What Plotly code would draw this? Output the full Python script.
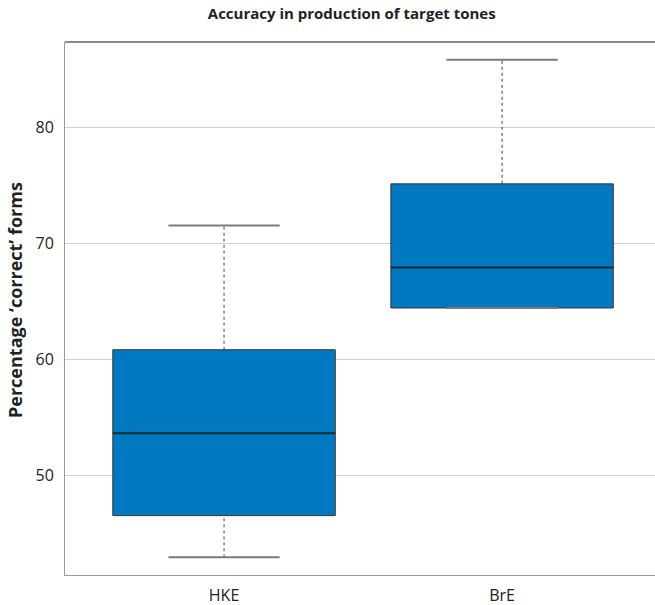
import plotly.graph_objects as go

categories = ["HKE", "BrE"]
lower_whisker = [42.9, 64.4]
q1 = [46.5, 64.4]
median = [53.6, 67.9]
q3 = [60.8, 75.1]
upper_whisker = [71.5, 85.8]
y_ticks = [50, 60, 70, 80]

BOX_W = 0.8
CAP_W = 0.4
pos = list(range(len(categories)))

fig = go.Figure()

# dotted whiskers
for i in pos:
    fig.add_trace(go.Scatter(x=[i, i], y=[q3[i], upper_whisker[i]], mode="lines",
                             line=dict(color="#444", width=1, dash="dot"),
                             hoverinfo="skip", showlegend=False))
    fig.add_trace(go.Scatter(x=[i, i], y=[lower_whisker[i], q1[i]], mode="lines",
                             line=dict(color="#444", width=1, dash="dot"),
                             hoverinfo="skip", showlegend=False))
    # caps
    for v in (upper_whisker[i], lower_whisker[i]):
        fig.add_trace(go.Scatter(x=[i - CAP_W / 2, i + CAP_W / 2], y=[v, v], mode="lines",
                                 line=dict(color="#7a7a7a", width=2),
                                 hoverinfo="skip", showlegend=False))

# boxes
fig.add_trace(go.Box(
    x=pos, q1=q1, median=median, q3=q3,
    lowerfence=q1, upperfence=q3,
    width=BOX_W, whiskerwidth=0,
    fillcolor="#0079C1", line=dict(color="#333333", width=1),
    boxpoints=False, showlegend=False,
))

# medians (thicker)
for i in pos:
    fig.add_trace(go.Scatter(x=[i - BOX_W / 2, i + BOX_W / 2], y=[median[i], median[i]],
                             mode="lines", line=dict(color="#1b2a33", width=2),
                             hoverinfo="skip", showlegend=False))

fig.update_layout(
    width=655, height=605,
    margin=dict(l=65, r=0, t=42, b=30, autoexpand=False),
    paper_bgcolor="white", plot_bgcolor="white",
    title=dict(text="<b>Accuracy in production of target tones</b>",
               x=0.537, xanchor="center", y=0.977, yanchor="middle",
               font=dict(family="Open Sans", size=15, color="#222")),
    font=dict(family="Open Sans", color="#222"),
    showlegend=False,
)
fig.update_xaxes(
    range=[-0.572, 1.55], tickvals=pos, ticktext=categories,
    showgrid=False, zeroline=False, ticks="", automargin=False,
    showline=True, linecolor="#999", linewidth=1,
    ticklabelstandoff=6,
    tickfont=dict(size=16, color="#222"),
)
fig.update_yaxes(
    range=[41.38, 87.33], tickvals=y_ticks, automargin=False,
    showgrid=True, gridcolor="#d0d0d0", gridwidth=1, zeroline=False, ticks="",
    showline=True, linecolor="#999", linewidth=1,
    ticklabelstandoff=7,
    tickfont=dict(size=16, color="#222"),
)
fig.add_annotation(
    text="<b>Percentage ‘correct’ forms</b>", textangle=-90,
    xref="paper", yref="paper", x=-0.0847, y=0.516,
    xanchor="center", yanchor="middle", showarrow=False,
    font=dict(family="Open Sans", size=18, color="#222"),
)
# top frame line
fig.add_shape(type="line", xref="paper", yref="paper", x0=0, x1=1, y0=1, y1=1,
              line=dict(color="#666", width=1.5))

fig.write_html("out.html", config={"displayModeBar": False},
               post_script="document.body.style.margin='0';")
